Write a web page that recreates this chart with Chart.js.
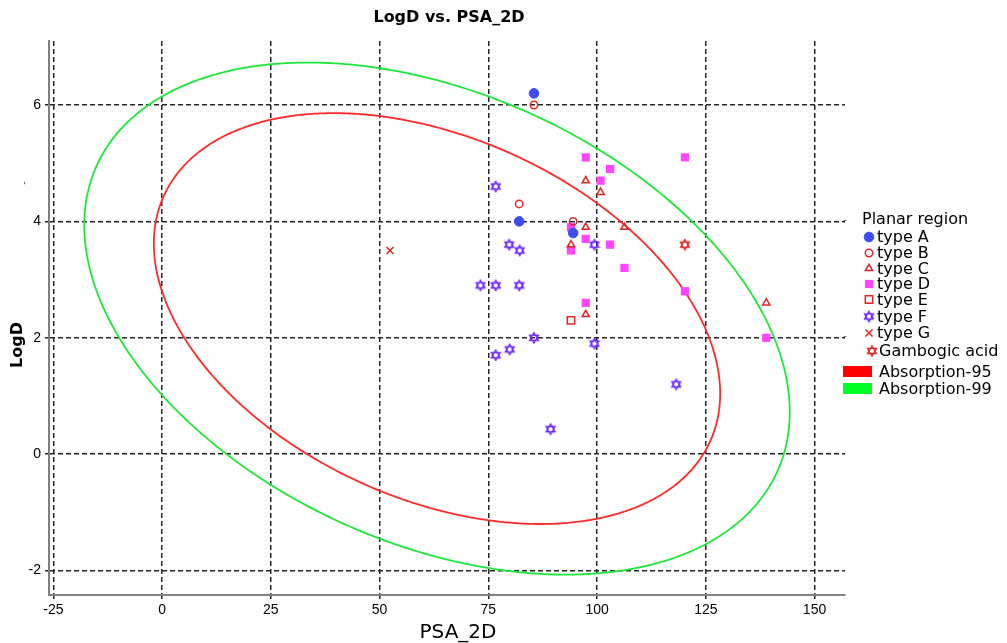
<!DOCTYPE html>
<html>
<head>
<meta charset="utf-8">
<script src="https://cdn.jsdelivr.net/npm/chart.js@4.4.0/dist/chart.umd.min.js"></script>
<style>
html,body{margin:0;padding:0;background:#fff;}
#wrap{width:1007px;height:643px;position:relative;}
</style>
</head>
<body>
<div id="wrap"><canvas id="c" width="1007" height="643"></canvas></div>
<script>
// ---------- texts ----------
const chartTitle = 'LogD vs. PSA_2D';
const xTitle = 'PSA_2D';
const yTitle = 'LogD';
const legendTitle = 'Planar region';

// ---------- axes ----------
const xTicks = [-25, 0, 25, 50, 75, 100, 125, 150];
const yTicks = [-2, 0, 2, 4, 6];
const xRange = [-26, 157];
const yRange = [-2.42, 7.1];

// ---------- series ----------
const seriesNames = ['type A', 'type B', 'type C', 'type D', 'type E', 'type F', 'type G', 'Gambogic acid'];

const typeA_x = [85.5, 82.1, 94.5];
const typeA_y = [6.2, 4.0, 3.8];

const typeB_x = [85.5, 82.1, 94.5];
const typeB_y = [6.0, 4.3, 4.0];

const typeC_x = [97.4, 100.8, 97.4, 106.3, 94.0, 97.4, 138.9];
const typeC_y = [4.7, 4.5, 3.9, 3.9, 3.6, 2.4, 2.6];

const typeD_x = [97.4, 120.2, 103.0, 100.8, 94.0, 97.4, 94.0, 103.0, 106.3, 97.4, 120.2, 138.9];
const typeD_y = [5.1, 5.1, 4.9, 4.7, 3.9, 3.7, 3.5, 3.6, 3.2, 2.6, 2.8, 2.0];

const typeE_x = [94.0];
const typeE_y = [2.3];

const typeF_x = [76.7, 79.8, 82.2, 99.4, 73.2, 76.7, 82.1, 85.5, 99.4, 76.7, 79.9, 118.2, 89.3];
const typeF_y = [4.6, 3.6, 3.5, 3.6, 2.9, 2.9, 2.9, 2.0, 1.9, 1.7, 1.8, 1.2, 0.43];

const typeG_x = [52.4];
const typeG_y = [3.5];

const gambogic_x = [120.2];
const gambogic_y = [3.6];

// ---------- absorption ellipses (data units) ----------
const ellipseNames = ['Absorption-95', 'Absorption-99'];
const ellipseCenter = [63.2, 2.33];
const ellipseHalfX = [65.1, 81.1];
const ellipseHalfY = [3.53, 4.40];
const ellipseCorr = -0.365;

// ---------- styles ----------
const RED = '#e42424';
const BLUE = '#3f4cf2';
const MAGENTA = '#ff45ff';
const PURPLE = '#6a22ff';
const ellipseColors = ['#ff2a2a', '#1ee83a'];
const legendRectColors = ['#ff0000', '#00ff22'];
const FONT = '"DejaVu Sans", Arial, sans-serif';

function hexagram(color) {
  const s = 14, c = document.createElement('canvas');
  c.width = s; c.height = s;
  const g = c.getContext('2d');
  g.strokeStyle = color; g.lineWidth = 1.25; g.lineJoin = 'miter';
  const r = 5.2, cx = s / 2, cy = s / 2;
  [[-90, 30, 150], [90, 210, 330]].forEach(tri => {
    g.beginPath();
    tri.forEach((a, i) => {
      const rad = a * Math.PI / 180;
      const px = cx + r * Math.cos(rad), py = cy + r * Math.sin(rad);
      i ? g.lineTo(px, py) : g.moveTo(px, py);
    });
    g.closePath(); g.stroke();
  });
  return c;
}
const starPurple = hexagram(PURPLE);
const starRed = hexagram(RED);

function pts(xs, ys) { return xs.map((x, i) => ({ x: x, y: ys[i] })); }

const markerStyles = [
  { pointStyle: 'circle', radius: 4.8, bg: BLUE, border: BLUE, bw: 1 },
  { pointStyle: 'circle', radius: 3.7, bg: 'rgba(0,0,0,0)', border: RED, bw: 1.5 },
  { pointStyle: 'triangle', radius: 4.2, bg: 'rgba(0,0,0,0)', border: RED, bw: 1.5 },
  { pointStyle: 'rect', radius: 5.8, bg: MAGENTA, border: MAGENTA, bw: 0 },
  { pointStyle: 'rect', radius: 5.2, bg: 'rgba(0,0,0,0)', border: RED, bw: 1.5 },
  { pointStyle: starPurple, radius: 6, bg: 'rgba(0,0,0,0)', border: PURPLE, bw: 0 },
  { pointStyle: 'crossRot', radius: 5, bg: 'rgba(0,0,0,0)', border: RED, bw: 1.5 },
  { pointStyle: starRed, radius: 6, bg: 'rgba(0,0,0,0)', border: RED, bw: 0 }
];

const seriesData = [
  pts(typeA_x, typeA_y), pts(typeB_x, typeB_y), pts(typeC_x, typeC_y), pts(typeD_x, typeD_y),
  pts(typeE_x, typeE_y), pts(typeF_x, typeF_y), pts(typeG_x, typeG_y), pts(gambogic_x, gambogic_y)
];

const datasets = seriesNames.map((name, i) => ({
  label: name,
  data: seriesData[i],
  pointStyle: markerStyles[i].pointStyle,
  pointRadius: markerStyles[i].radius,
  pointHoverRadius: markerStyles[i].radius,
  backgroundColor: markerStyles[i].bg,
  borderColor: markerStyles[i].border,
  pointBorderWidth: markerStyles[i].bw,
  borderWidth: markerStyles[i].bw
}));

const ellipsePlugin = {
  id: 'ellipses',
  beforeDatasetsDraw(chart) {
    const ctx = chart.ctx, xs = chart.scales.x, ys = chart.scales.y;
    const phi = Math.acos(ellipseCorr);
    ellipseNames.forEach((n, k) => {
      ctx.save();
      ctx.beginPath();
      for (let i = 0; i <= 720; i++) {
        const t = i * Math.PI / 360;
        const dx = ellipseCenter[0] + ellipseHalfX[k] * Math.cos(t);
        const dy = ellipseCenter[1] + ellipseHalfY[k] * Math.cos(t - phi);
        const px = xs.getPixelForValue(dx), py = ys.getPixelForValue(dy);
        if (i) ctx.lineTo(px, py); else ctx.moveTo(px, py);
      }
      ctx.closePath();
      ctx.strokeStyle = ellipseColors[k];
      ctx.lineWidth = 1.8;
      ctx.stroke();
      ctx.restore();
    });
  }
};

function drawMarker(ctx, st, x, y) {
  ctx.save();
  ctx.fillStyle = st.bg;
  ctx.strokeStyle = st.border;
  ctx.lineWidth = st.bw;
  if (Chart.helpers && Chart.helpers.drawPoint) {
    Chart.helpers.drawPoint(ctx, { pointStyle: st.pointStyle, radius: st.radius, rotation: 0, borderWidth: st.bw }, x, y);
  } else if (typeof st.pointStyle === 'object') {
    ctx.drawImage(st.pointStyle, x - st.pointStyle.width / 2, y - st.pointStyle.height / 2);
  } else {
    ctx.beginPath(); ctx.arc(x, y, st.radius, 0, Math.PI * 2); ctx.fill(); if (st.bw) ctx.stroke();
  }
  ctx.restore();
}

const textPlugin = {
  id: 'texts',
  afterDraw(chart) {
    const ctx = chart.ctx;
    ctx.save();
    ctx.fillStyle = '#000';
    ctx.textBaseline = 'middle';
    // chart title
    ctx.textAlign = 'center';
    ctx.font = 'bold 16px ' + FONT;
    ctx.fillText(chartTitle, 449, 18);
    // x title
    ctx.font = '20px ' + FONT;
    ctx.fillText(xTitle, 458, 633);
    // y title
    ctx.save();
    ctx.translate(18, 345);
    ctx.rotate(-Math.PI / 2);
    ctx.font = 'bold 16px ' + FONT;
    ctx.fillText(yTitle, 0, 0);
    ctx.restore();
    // stray dash marks
    ctx.fillStyle = '#555';
    ctx.font = '10px ' + FONT;
    ctx.fillText('-', 845, 220);
    ctx.fillText('-', 845, 336);
    ctx.save(); ctx.translate(24, 183); ctx.rotate(-Math.PI / 2); ctx.fillText('-', 0, 0); ctx.restore();
    // legend
    ctx.fillStyle = '#000';
    ctx.textAlign = 'left';
    ctx.font = '16px ' + FONT;
    ctx.fillText(legendTitle, 862, 220);
    const rowY = [237, 253, 268.5, 284, 299.5, 316.5, 333, 351, 371.5, 388.5];
    seriesNames.forEach((name, i) => {
      const isG = i === 7;
      drawMarker(ctx, markerStyles[i], isG ? 872 : 869, rowY[i]);
      ctx.fillStyle = '#000';
      ctx.font = '16px ' + FONT;
      ctx.fillText(name, isG ? 879 : 877, rowY[i] + 1);
    });
    ellipseNames.forEach((name, k) => {
      const y = rowY[8 + k];
      ctx.fillStyle = legendRectColors[k];
      ctx.fillRect(843, y - 5.5, 29, 11);
      ctx.fillStyle = '#000';
      ctx.font = '16px ' + FONT;
      ctx.fillText(name, 879, y + 1);
    });
    ctx.restore();
  }
};

const gridCommon = {
  color: '#262626',
  lineWidth: 1.5,
  drawTicks: true,
  tickLength: 4,
  tickColor: '#222',
  tickWidth: 1.5
};

new Chart(document.getElementById('c'), {
  type: 'scatter',
  data: { datasets: datasets },
  options: {
    responsive: false,
    animation: false,
    events: [],
    layout: { padding: { left: 0, top: 41, right: 162, bottom: 0 } },
    plugins: { legend: { display: false }, title: { display: false }, tooltip: { enabled: false } },
    scales: {
      x: {
        type: 'linear', position: 'bottom', min: xRange[0], max: xRange[1],
        afterBuildTicks: s => { s.ticks = xTicks.map(v => ({ value: v })); },
        afterFit: s => { s.height = 48; },
        grid: gridCommon,
        border: { display: true, color: '#808080', width: 2, dash: [5, 3] },
        ticks: { font: { family: 'Arial, "Liberation Sans"', size: 14 }, color: '#000', padding: 3, maxRotation: 0, autoSkip: false }
      },
      y: {
        type: 'linear', position: 'left', min: yRange[0], max: yRange[1],
        afterBuildTicks: s => { s.ticks = yTicks.map(v => ({ value: v })); },
        afterFit: s => { s.width = 49; },
        grid: gridCommon,
        border: { display: true, color: '#808080', width: 2, dash: [5, 3] },
        ticks: { font: { family: 'Arial, "Liberation Sans"', size: 14 }, color: '#000', padding: 4, autoSkip: false }
      }
    }
  },
  plugins: [ellipsePlugin, textPlugin]
});
</script>
</body>
</html>
